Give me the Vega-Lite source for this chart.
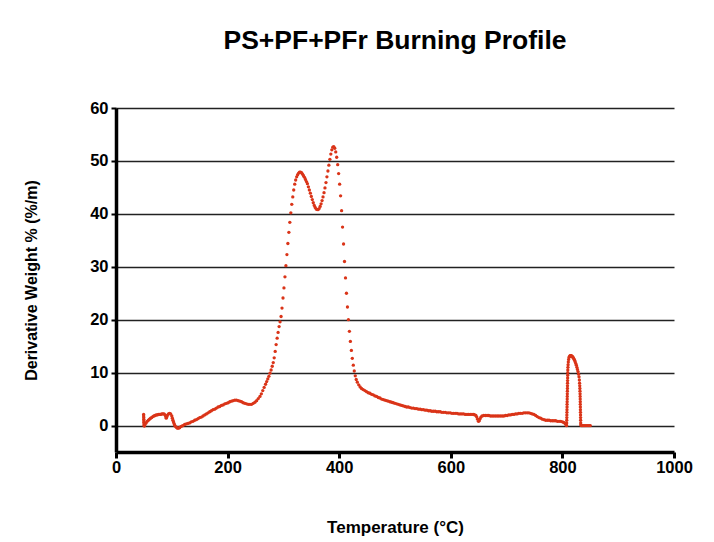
{
  "$schema": "https://vega.github.io/schema/vega-lite/v6.json",
  "width": 558,
  "height": 344,
  "autosize": {"type": "none"},
  "padding": {"left": 116, "top": 108, "right": 40, "bottom": 90},
  "background": "white",
  "title": {
    "text": "PS+PF+PFr Burning Profile",
    "anchor": "middle",
    "frame": "group",
    "font": "Liberation Sans",
    "fontSize": 26.5,
    "fontWeight": "bold",
    "color": "black",
    "offset": 46
  },
  "config": {
    "view": {"stroke": null},
    "axis": {
      "labelFont": "Liberation Sans",
      "labelFontWeight": "bold",
      "labelFontSize": 16.5,
      "labelColor": "black",
      "labelFlush": false,
      "titleFont": "Liberation Sans",
      "titleFontWeight": "bold",
      "titleColor": "black",
      "domainColor": "black",
      "domainWidth": 3.5,
      "tickColor": "black"
    }
  },
  "data": {
    "values": [
      {"t":49.5,"d":2.1},{"t":49.6,"d":1.8},{"t":49.7,"d":1.5},{"t":49.8,"d":1.2},{"t":49.9,"d":0.9},{"t":50,"d":0.6},{"t":50.1,"d":0.3},{"t":50.3,"d":0.0},{"t":50.8,"d":-0.1},
      {"t":52,"d":0.2},{"t":54,"d":0.5},{"t":56,"d":0.8},{"t":58,"d":1.0},{"t":60,"d":1.2},{"t":62,"d":1.4},{"t":64,"d":1.5},{"t":66,"d":1.7},{"t":68,"d":1.8},{"t":70,"d":1.9},{"t":72,"d":2.0},{"t":74,"d":2.0},{"t":76,"d":2.1},{"t":78,"d":2.1},{"t":80,"d":2.1},{"t":82,"d":2.2},{"t":84,"d":2.2},{"t":86,"d":2.2},{"t":88,"d":2.0},{"t":89,"d":1.7},{"t":90,"d":1.4},{"t":91,"d":1.6},{"t":92,"d":1.9},{"t":94,"d":2.2},{"t":96,"d":2.3},{"t":98,"d":2.2},{"t":100,"d":1.8},{"t":101,"d":1.4},{"t":102,"d":1.0},{"t":103,"d":0.7},{"t":104,"d":0.4},{"t":105,"d":0.1},{"t":106,"d":-0.1},{"t":108,"d":-0.3},{"t":110,"d":-0.5},{"t":112,"d":-0.5},{"t":114,"d":-0.4},{"t":116,"d":-0.2},{"t":118,"d":-0.1},{"t":120,"d":0.0},
      {"t":123,"d":0.2},{"t":126,"d":0.3},{"t":129,"d":0.4},{"t":132,"d":0.5},{"t":135,"d":0.7},{"t":138,"d":0.8},{"t":141,"d":1.0},{"t":144,"d":1.1},{"t":147,"d":1.3},{"t":150,"d":1.5},{"t":153,"d":1.6},{"t":156,"d":1.8},{"t":159,"d":2.0},{"t":162,"d":2.2},{"t":165,"d":2.4},{"t":168,"d":2.6},{"t":171,"d":2.8},{"t":174,"d":3.0},{"t":177,"d":3.1},{"t":180,"d":3.3},{"t":183,"d":3.5},{"t":186,"d":3.6},{"t":189,"d":3.8},{"t":192,"d":3.9},{"t":195,"d":4.1},{"t":198,"d":4.2},{"t":201,"d":4.3},{"t":204,"d":4.5},{"t":207,"d":4.6},{"t":210,"d":4.7},{"t":213,"d":4.8},{"t":216,"d":4.8},{"t":219,"d":4.7},{"t":222,"d":4.6},{"t":225,"d":4.5},{"t":228,"d":4.3},{"t":231,"d":4.2},{"t":234,"d":4.1},{"t":237,"d":4.0},{"t":240,"d":4.0},{"t":243,"d":4.0},{"t":246,"d":4.2},{"t":249,"d":4.4},{"t":252,"d":4.7},{"t":255,"d":5.1},{"t":258,"d":5.5},{"t":260.5,"d":6.0},{"t":263,"d":6.6},{"t":265.5,"d":7.2},{"t":268,"d":7.8},{"t":270,"d":8.3},{"t":272,"d":8.8},{"t":274,"d":9.3},
      {"t":276,"d":9.9},{"t":278,"d":10.5},{"t":280,"d":11.2},{"t":281.8,"d":11.9},{"t":283.5,"d":12.8},{"t":285.3,"d":14.0},{"t":287,"d":15.3},{"t":288.8,"d":16.5},{"t":290.5,"d":17.6},{"t":292.3,"d":18.7},{"t":294,"d":19.6},{"t":295.8,"d":20.6},{"t":297.5,"d":22.2},{"t":299.3,"d":24.1},{"t":301,"d":26.0},{"t":302.8,"d":28.1},{"t":304.5,"d":30.2},{"t":306.3,"d":32.3},{"t":308,"d":34.4},{"t":309.8,"d":36.5},{"t":311.5,"d":38.4},{"t":313.3,"d":40.2},{"t":315,"d":41.8},{"t":316.8,"d":43.2},{"t":318.5,"d":44.5},{"t":320.3,"d":45.6},{"t":322,"d":46.4},{"t":323.8,"d":47.0},{"t":325.5,"d":47.4},{"t":327.3,"d":47.7},{"t":329,"d":47.9},{"t":330.8,"d":47.9},{"t":332.5,"d":47.8},{"t":334.3,"d":47.5},{"t":336,"d":47.2},{"t":337.8,"d":46.9},{"t":339.5,"d":46.5},{"t":341.3,"d":46.1},{"t":343,"d":45.7},{"t":344.8,"d":45.1},{"t":346.5,"d":44.5},{"t":348.3,"d":43.9},{"t":350,"d":43.3},{"t":351.8,"d":42.7},{"t":353.5,"d":42.1},{"t":355.3,"d":41.6},{"t":357,"d":41.2},{"t":358.8,"d":40.9},{"t":360.5,"d":40.8},{"t":362.3,"d":40.8},{"t":364,"d":41.0},{"t":365.8,"d":41.4},{"t":367.5,"d":41.9},{"t":369.3,"d":42.5},{"t":371,"d":43.2},{"t":372.8,"d":44.0},{"t":374.5,"d":44.9},{"t":376.3,"d":45.9},{"t":378,"d":47.0},{"t":379.8,"d":48.1},{"t":381.5,"d":49.2},{"t":383.3,"d":50.3},{"t":385,"d":51.3},{"t":386.8,"d":52.1},{"t":388.5,"d":52.6},{"t":390.3,"d":52.7},{"t":392,"d":52.4},{"t":393.8,"d":51.7},{"t":395.5,"d":50.7},{"t":397.3,"d":49.3},{"t":399,"d":47.6},{"t":400.8,"d":45.6},{"t":402.5,"d":43.4},{"t":404.3,"d":40.6},{"t":406,"d":37.5},{"t":407.8,"d":34.3},{"t":409.5,"d":31.0},{"t":411.3,"d":27.9},{"t":413,"d":25.0},{"t":414.8,"d":22.4},{"t":416.5,"d":20.0},{"t":418.3,"d":17.8},{"t":420,"d":15.9},{"t":421.8,"d":14.2},{"t":423.5,"d":12.7},{"t":425.3,"d":11.4},{"t":427,"d":10.3},{"t":428.8,"d":9.4},{"t":430.5,"d":8.7},
      {"t":432.5,"d":8.2},{"t":435,"d":7.7},{"t":437.5,"d":7.3},{"t":440,"d":7.0},{"t":443,"d":6.8},{"t":446,"d":6.6},{"t":449,"d":6.4},{"t":452,"d":6.2},{"t":455,"d":6.1},{"t":458,"d":5.9},{"t":461,"d":5.8},{"t":464,"d":5.6},{"t":467,"d":5.5},{"t":470,"d":5.3},{"t":473,"d":5.2},{"t":476,"d":5.0},{"t":479,"d":4.9},{"t":482,"d":4.8},{"t":485,"d":4.7},{"t":488,"d":4.6},{"t":491,"d":4.5},{"t":494,"d":4.4},{"t":497,"d":4.3},{"t":500,"d":4.2},{"t":503,"d":4.1},{"t":506,"d":4.0},{"t":509,"d":3.9},{"t":512,"d":3.8},{"t":515,"d":3.7},{"t":518,"d":3.6},{"t":521,"d":3.5},{"t":524,"d":3.5},{"t":527,"d":3.4},{"t":530,"d":3.3},{"t":533,"d":3.3},{"t":536,"d":3.2},{"t":539,"d":3.2},{"t":542,"d":3.1},{"t":545,"d":3.1},{"t":548,"d":3.0},{"t":551,"d":3.0},{"t":554,"d":2.9},{"t":557,"d":2.9},{"t":560,"d":2.8},{"t":563,"d":2.8},{"t":566,"d":2.7},{"t":569,"d":2.7},{"t":572,"d":2.7},{"t":575,"d":2.6},{"t":578,"d":2.6},{"t":581,"d":2.6},{"t":584,"d":2.5},{"t":587,"d":2.5},{"t":590,"d":2.5},{"t":593,"d":2.4},{"t":596,"d":2.4},{"t":599,"d":2.4},{"t":602,"d":2.3},{"t":605,"d":2.3},{"t":608,"d":2.3},{"t":611,"d":2.3},{"t":614,"d":2.2},{"t":617,"d":2.2},{"t":620,"d":2.2},{"t":623,"d":2.2},{"t":626,"d":2.1},{"t":629,"d":2.1},{"t":632,"d":2.1},{"t":635,"d":2.1},{"t":638,"d":2.1},{"t":641,"d":2.1},{"t":643,"d":2.0},{"t":645,"d":1.9},{"t":646.5,"d":1.6},{"t":648,"d":1.2},{"t":649.5,"d":0.8},{"t":651,"d":0.9},{"t":652.5,"d":1.3},{"t":654,"d":1.6},{"t":656,"d":1.8},{"t":659,"d":1.9},{"t":662,"d":1.9},{"t":665,"d":1.9},{"t":668,"d":1.9},{"t":671,"d":1.8},{"t":674,"d":1.8},{"t":677,"d":1.8},{"t":680,"d":1.8},{"t":683,"d":1.8},{"t":686,"d":1.8},{"t":689,"d":1.8},{"t":692,"d":1.8},{"t":695,"d":1.8},{"t":698,"d":1.9},{"t":701,"d":1.9},{"t":704,"d":2.0},{"t":707,"d":2.0},{"t":710,"d":2.1},{"t":713,"d":2.1},{"t":716,"d":2.2},{"t":719,"d":2.2},{"t":722,"d":2.3},{"t":725,"d":2.3},{"t":728,"d":2.3},{"t":731,"d":2.4},{"t":734,"d":2.4},{"t":737,"d":2.4},{"t":740,"d":2.4},{"t":743,"d":2.3},{"t":746,"d":2.2},{"t":749,"d":2.1},{"t":752,"d":1.9},{"t":755,"d":1.7},{"t":758,"d":1.5},{"t":761,"d":1.4},{"t":764,"d":1.2},{"t":767,"d":1.1},{"t":770,"d":1.0},{"t":773,"d":1.0},{"t":776,"d":1.0},{"t":779,"d":0.9},{"t":782,"d":0.9},{"t":785,"d":0.9},{"t":788,"d":0.9},{"t":791,"d":0.8},{"t":794,"d":0.8},{"t":797,"d":0.8},{"t":800,"d":0.7},{"t":802,"d":0.6},{"t":804,"d":0.5},{"t":805.5,"d":0.3},{"t":807,"d":0.1},
      {"t":807.6,"d":0.0},{"t":807.7,"d":0.5},{"t":807.8,"d":1.0},{"t":807.9,"d":1.5},{"t":808.0,"d":2.0},{"t":808.1,"d":2.5},{"t":808.2,"d":3.0},{"t":808.3,"d":3.5},{"t":808.4,"d":4.0},{"t":808.5,"d":4.5},{"t":808.6,"d":5.0},{"t":808.7,"d":5.5},{"t":808.8,"d":6.0},{"t":808.9,"d":6.5},{"t":809.0,"d":7.0},{"t":809.1,"d":7.5},{"t":809.2,"d":8.0},{"t":809.3,"d":8.5},{"t":809.4,"d":9.0},{"t":809.5,"d":9.5},{"t":809.6,"d":10.0},{"t":809.7,"d":10.5},{"t":809.9,"d":11.0},{"t":810.2,"d":11.5},{"t":810.6,"d":12.0},{"t":811.2,"d":12.5},{"t":812,"d":12.9},{"t":813,"d":13.1},{"t":814,"d":13.2},{"t":815,"d":13.2},{"t":816,"d":13.2},{"t":817,"d":13.1},{"t":818,"d":13.0},{"t":819,"d":12.9},{"t":820,"d":12.7},{"t":821,"d":12.5},{"t":822,"d":12.3},{"t":823,"d":12.0},{"t":824,"d":11.7},{"t":825,"d":11.4},{"t":826,"d":11.0},{"t":827,"d":10.6},{"t":828,"d":10.2},{"t":829,"d":9.7},{"t":829.8,"d":9.2},{"t":830.4,"d":8.6},{"t":830.8,"d":8.0},{"t":831.1,"d":7.5},{"t":831.3,"d":7.0},{"t":831.5,"d":6.5},{"t":831.7,"d":6.0},{"t":831.8,"d":5.5},{"t":831.9,"d":5.0},{"t":832.0,"d":4.5},{"t":832.1,"d":4.0},{"t":832.2,"d":3.5},{"t":832.3,"d":3.0},{"t":832.4,"d":2.5},{"t":832.5,"d":2.0},{"t":832.6,"d":1.5},{"t":832.7,"d":1.0},{"t":832.8,"d":0.5},{"t":832.9,"d":0.1},{"t":834,"d":0.0},{"t":836,"d":0.0},{"t":838,"d":0.0},{"t":840,"d":0.0},{"t":842,"d":0.0},{"t":844,"d":0.0},{"t":846,"d":0.0},{"t":848,"d":0.0},{"t":850,"d":0.0}
    ]
  },
  "mark": {"type": "circle", "size": 11, "opacity": 1, "color": "#da3418"},
  "encoding": {
    "x": {
      "field": "t",
      "type": "quantitative",
      "scale": {"domain": [0, 1000], "nice": false, "zero": false},
      "axis": {
        "title": "Temperature (°C)",
        "titleFontSize": 17,
        "format": "d",
        "values": [0, 200, 400, 600, 800, 1000],
        "grid": false,
        "tickSize": 6,
        "tickWidth": 3,
        "labelPadding": 1,
        "labelOverlap": false,
        "titlePadding": 44
      }
    },
    "y": {
      "field": "d",
      "type": "quantitative",
      "scale": {"domain": [-5, 60], "nice": false, "zero": false},
      "axis": {
        "title": "Derivative Weight % (%/m)",
        "titleFontSize": 16,
        "values": [0, 10, 20, 30, 40, 50, 60],
        "grid": true,
        "gridColor": "#222222",
        "gridWidth": 1.5,
        "gridOpacity": 1,
        "tickSize": 5,
        "tickWidth": 2,
        "labelPadding": 3,
        "labelOverlap": false,
        "titlePadding": 50
      }
    }
  }
}
